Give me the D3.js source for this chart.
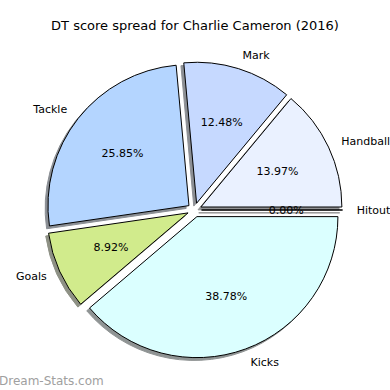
<!DOCTYPE html>
<html>
<head>
<meta charset="utf-8">
<script src="https://cdn.jsdelivr.net/npm/d3@7"></script>
<style>
  body { margin: 0; background: #fff; }
  text { font-family: "DejaVu Sans", sans-serif; fill: #000; }
</style>
</head>
<body>
<div id="chart"></div>
<script>
// slice order follows matplotlib: counter-clockwise from 3 o'clock
const categories = ["Hitout", "Handball", "Mark", "Tackle", "Goals", "Kicks"];
const shares = [0.00, 13.97, 12.48, 25.85, 8.92, 38.78];
const palette = ["#f0f0f0", "#eaf1ff", "#c6d9ff", "#b4d5ff", "#d1eb8c", "#dbffff"];
const titleText = "DT score spread for Charlie Cameron (2016)";

const W = 390, H = 390;
const cx = 194.5, cy = 210, R = 141;
const EXPLODE = 0.05 * R;
const SHADOW = 0.02 * R;

const data = categories.map((c, i) => ({ name: c, value: shares[i], colour: palette[i] }));

const svg = d3.select("#chart").append("svg")
  .attr("width", W)
  .attr("height", H);

svg.append("text")
  .attr("x", W / 2)
  .attr("y", 30)
  .attr("text-anchor", "middle")
  .style("font-size", "13px")
  .text(titleText);

// d3 angle 0 is 12 o'clock clockwise -> start at 3 o'clock and run backwards
const pie = d3.pie()
  .sort(null)
  .value(d => d.value)
  .startAngle(Math.PI / 2)
  .endAngle(Math.PI / 2 - 2 * Math.PI);

const arcs = pie(data);
const arc = d3.arc().innerRadius(0).outerRadius(R);

function mid(d) { return (d.startAngle + d.endAngle) / 2; }
function offset(d, dist) {
  const a = mid(d);
  return [dist * Math.sin(a), -dist * Math.cos(a)];
}

const g = svg.append("g").attr("transform", `translate(${cx},${cy})`);

// shadows first
g.append("g").selectAll("path")
  .data(arcs)
  .join("path")
  .attr("d", arc)
  .attr("transform", d => {
    const o = offset(d, EXPLODE);
    return `translate(${o[0] - SHADOW},${o[1] + SHADOW})`;
  })
  .attr("fill", d => d3.rgb(d.data.colour).darker(4))
  .attr("stroke", d => d3.rgb(d.data.colour).darker(4))
  .attr("stroke-width", 1)
  .attr("opacity", 0.55);

g.append("g").selectAll("path")
  .data(arcs)
  .join("path")
  .attr("d", arc)
  .attr("transform", d => {
    const o = offset(d, EXPLODE);
    return `translate(${o[0]},${o[1]})`;
  })
  .attr("fill", d => d.data.colour)
  .attr("stroke", "#000")
  .attr("stroke-width", 1)
  .attr("stroke-linejoin", "round");

// percentages at 0.6 R
g.append("g").selectAll("text")
  .data(arcs)
  .join("text")
  .attr("x", d => offset(d, EXPLODE + 0.6 * R)[0])
  .attr("y", d => offset(d, EXPLODE + 0.6 * R)[1])
  .attr("text-anchor", "middle")
  .attr("dominant-baseline", "central")
  .style("font-size", "11px")
  .text(d => d3.format(".2f")(d.data.value) + "%");

// category labels at 1.1 R
g.append("g").selectAll("text")
  .data(arcs)
  .join("text")
  .attr("x", d => offset(d, EXPLODE + 1.1 * R)[0])
  .attr("y", d => offset(d, EXPLODE + 1.1 * R)[1])
  .attr("text-anchor", d => Math.sin(mid(d)) >= 0 ? "start" : "end")
  .attr("dominant-baseline", "central")
  .style("font-size", "11px")
  .text(d => d.data.name);

svg.append("text")
  .attr("x", -1)
  .attr("y", 385)
  .style("font-size", "12px")
  .style("fill", "#a0a0a0")
  .text("Dream-Stats.com");
</script>
</body>
</html>
